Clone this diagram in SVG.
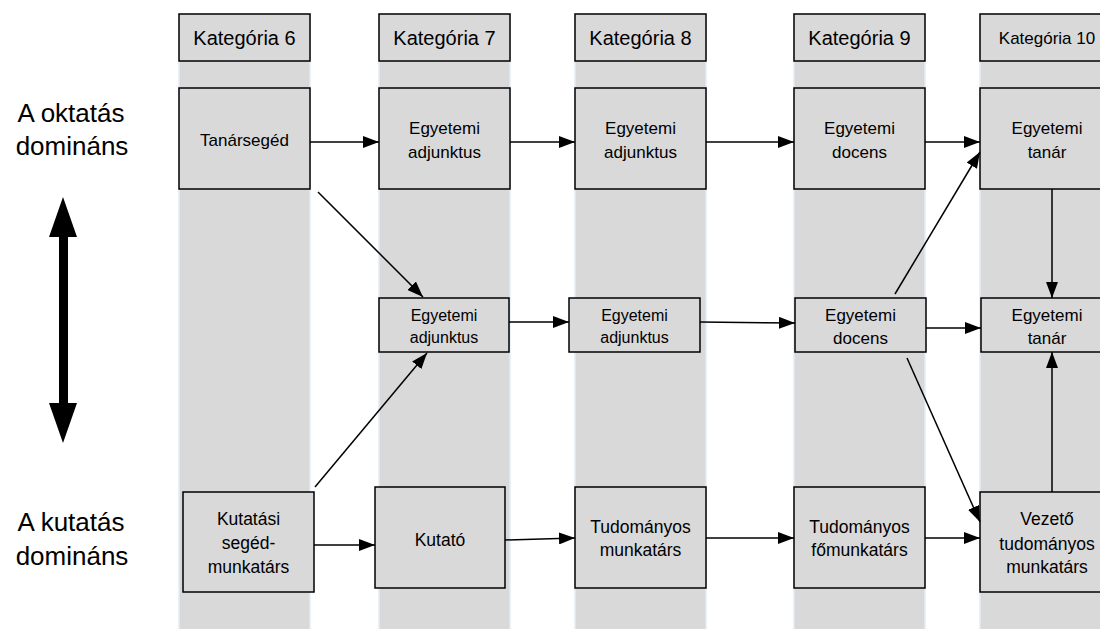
<svg xmlns="http://www.w3.org/2000/svg" width="1100" height="629" viewBox="0 0 1100 629">
<defs>
<marker id="ah" markerUnits="userSpaceOnUse" markerWidth="17" markerHeight="12" refX="16" refY="6" orient="auto">
<path d="M0,0 L16,6 L0,12 z" fill="#000"/>
</marker>
<style>
.band{fill:#d9d9d9;stroke:#e3ebf6;stroke-width:1.5}
.box{fill:#d9d9d9;stroke:#000;stroke-width:1.5}
.t{font-family:"Liberation Sans",Arial,sans-serif;fill:#000;text-anchor:middle}
.hd{font-size:20px}
.r1{font-size:17px}
.r2{font-size:16px}
.r3{font-size:17.5px}
.side{font-size:26px}
.c{stroke:#000;stroke-width:1.5;fill:none;marker-end:url(#ah)}
</style>
</defs>
<rect width="1100" height="629" fill="#fff"/>
<g id="bands">
<rect class="band" x="179" y="14" width="131" height="620"/>
<rect class="band" x="379" y="14" width="131" height="620"/>
<rect class="band" x="575" y="14" width="131" height="620"/>
<rect class="band" x="794" y="14" width="131" height="620"/>
<rect class="band" x="980" y="14" width="134" height="620"/>
</g>
<g id="side-labels">
<text class="t side" x="71" y="122">A oktatás</text>
<text class="t side" x="72" y="155">domináns</text>
<text class="t side" x="71" y="531">A kutatás</text>
<text class="t side" x="72" y="565">domináns</text>
<polygon id="double-arrow" points="63,197 77,237 68,237 68,403 77,403 63,443 49,403 59,403 59,237 49,237" fill="#000"/>
</g>
<g id="h6"><rect class="box" x="179" y="14" width="131" height="47"/><text class="t hd" x="244.5" y="45">Kategória 6</text></g>
<g id="h7"><rect class="box" x="379" y="14" width="131" height="47"/><text class="t hd" x="444.5" y="45">Kategória 7</text></g>
<g id="h8"><rect class="box" x="575" y="14" width="131" height="47"/><text class="t hd" x="640.5" y="45">Kategória 8</text></g>
<g id="h9"><rect class="box" x="794" y="14" width="131" height="47"/><text class="t hd" x="859.5" y="45">Kategória 9</text></g>
<g id="h10"><rect class="box" x="980" y="14" width="134" height="47"/><text class="t" style="font-size:17px" x="1047" y="44">Kategória 10</text></g>

<g id="n6a"><rect class="box" x="179" y="88" width="131" height="101"/><text class="t r1" x="244.5" y="146">Tanársegéd</text></g>
<g id="n7a"><rect class="box" x="379" y="88" width="131" height="101"/><text class="t r1" x="444.5" y="134">Egyetemi</text><text class="t r1" x="444.5" y="158">adjunktus</text></g>
<g id="n8a"><rect class="box" x="575" y="88" width="131" height="101"/><text class="t r1" x="640.5" y="134">Egyetemi</text><text class="t r1" x="640.5" y="158">adjunktus</text></g>
<g id="n9a"><rect class="box" x="794" y="88" width="131" height="101"/><text class="t r1" x="859.5" y="134">Egyetemi</text><text class="t r1" x="859.5" y="158">docens</text></g>
<g id="n10a"><rect class="box" x="980" y="88" width="134" height="101"/><text class="t r1" x="1047" y="134">Egyetemi</text><text class="t r1" x="1047" y="158">tanár</text></g>

<g id="n7b"><rect class="box" x="379" y="298" width="130" height="54"/><text class="t r2" x="444" y="321">Egyetemi</text><text class="t r2" x="444" y="343">adjunktus</text></g>
<g id="n8b"><rect class="box" x="569" y="298" width="131" height="54"/><text class="t r2" x="634.5" y="321">Egyetemi</text><text class="t r2" x="634.5" y="343">adjunktus</text></g>
<g id="n9b"><rect class="box" x="795" y="298" width="131" height="54"/><text class="t r1" x="860.5" y="321">Egyetemi</text><text class="t r1" x="860.5" y="344">docens</text></g>
<g id="n10b"><rect class="box" x="981" y="298" width="133" height="54"/><text class="t r1" x="1047" y="321">Egyetemi</text><text class="t r1" x="1047" y="344">tanár</text></g>

<g id="n6c"><rect class="box" x="183" y="492" width="131" height="100"/><text class="t r3" x="248.5" y="525">Kutatási</text><text class="t r3" x="248.5" y="549">segéd-</text><text class="t r3" x="248.5" y="573">munkatárs</text></g>
<g id="n7c"><rect class="box" x="375" y="487" width="130" height="101"/><text class="t r3" x="440" y="546">Kutató</text></g>
<g id="n8c"><rect class="box" x="575" y="487" width="131" height="101"/><text class="t r3" x="640.5" y="533">Tudományos</text><text class="t r3" x="640.5" y="556">munkatárs</text></g>
<g id="n9c"><rect class="box" x="794" y="487" width="131" height="101"/><text class="t r3" x="859.5" y="533">Tudományos</text><text class="t r3" x="859.5" y="556">főmunkatárs</text></g>
<g id="n10c"><rect class="box" x="980" y="492" width="134" height="100"/><text class="t r3" x="1047" y="525">Vezető</text><text class="t r3" x="1047" y="550">tudományos</text><text class="t r3" x="1047" y="573">munkatárs</text></g>

<g id="connectors">
<line class="c" x1="310" y1="142" x2="379" y2="142"/>
<line class="c" x1="510" y1="142" x2="575" y2="142"/>
<line class="c" x1="706" y1="142" x2="794" y2="142"/>
<line class="c" x1="925" y1="142" x2="980" y2="142"/>
<line class="c" x1="895" y1="294" x2="980" y2="152"/>
<line class="c" x1="1052" y1="189" x2="1052" y2="298"/>
<line class="c" x1="318" y1="192" x2="423" y2="297"/>
<line class="c" x1="315" y1="487" x2="427" y2="353"/>
<line class="c" x1="509" y1="322" x2="569" y2="322"/>
<line class="c" x1="700" y1="322" x2="795" y2="323"/>
<line class="c" x1="926" y1="328" x2="981" y2="328"/>
<line class="c" x1="907" y1="358" x2="980" y2="522"/>
<line class="c" x1="1052" y1="492" x2="1052" y2="352"/>
<line class="c" x1="314" y1="545" x2="375" y2="545"/>
<line class="c" x1="505" y1="540" x2="575" y2="538"/>
<line class="c" x1="706" y1="538" x2="794" y2="538"/>
<line class="c" x1="925" y1="538" x2="980" y2="538"/>
</g>
</svg>
